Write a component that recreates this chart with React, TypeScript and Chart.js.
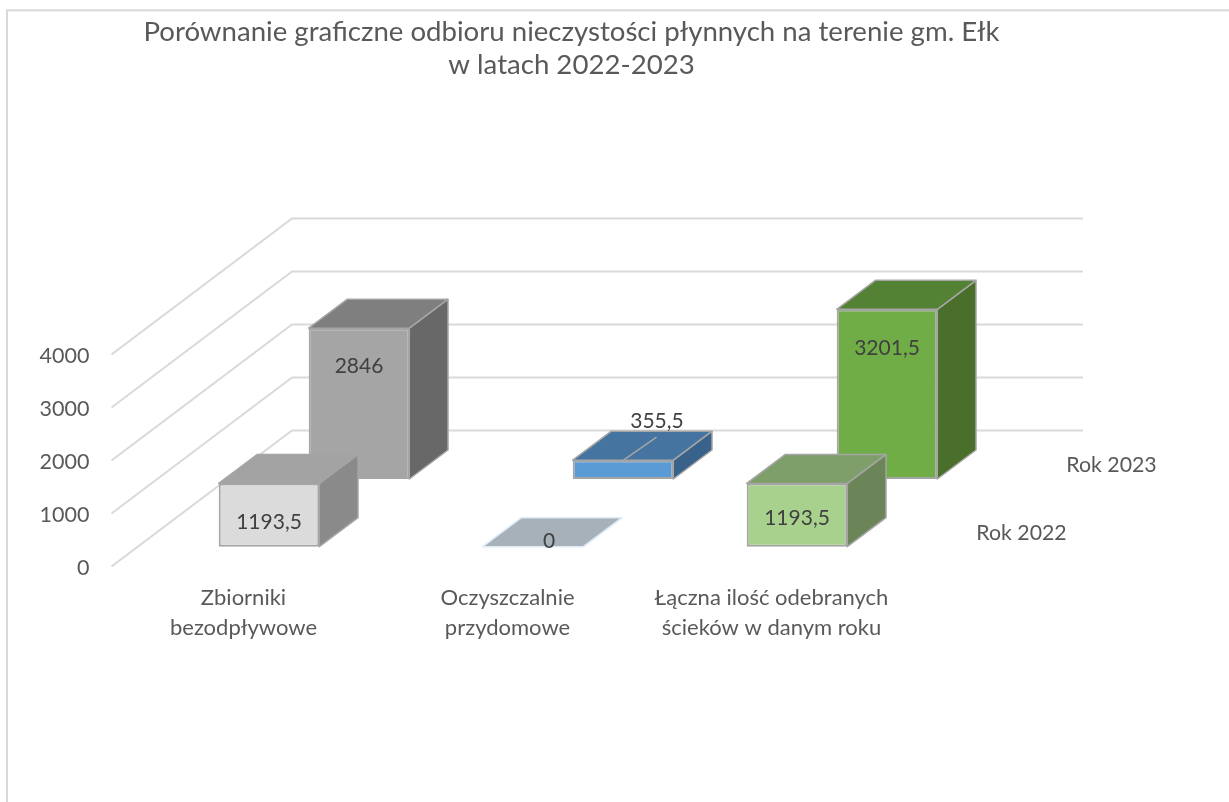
import React, { useEffect, useRef } from "react";
import { Chart, registerables } from "chart.js";

Chart.register(...registerables);

const categories = [["Zbiorniki", "bezodpływowe"], ["Oczyszczalnie", "przydomowe"], ["Łączna ilość odebranych", "ścieków w danym roku"]];
const seriesNames = ["Rok 2022", "Rok 2023"];
const rok2022 = [1193.5, 0, 1193.5];
const rok2023 = [2846, 355.5, 3201.5];
const yTicks = { min: 0, max: 4000, step: 1000 };
const titleLines = ["Porównanie graficzne odbioru nieczystości płynnych na terenie gm. Ełk", "w latach 2022-2023"];

const FONT = "Lato, Carlito, Calibri, sans-serif";
const frontFace = [
  ["#dbdbdb", "#a6b1ba", "#a9d18e"],
  ["#a5a5a5", "#5b9bd5", "#70ad47"],
];
const topFace = [
  ["#a3a3a3", "#a6b1ba", "#7f9f6a"],
  ["#7f7f7f", "#44749f", "#548235"],
];
const sideFace = [
  ["#8a8a8a", "#a6b1ba", "#6b8559"],
  ["#686868", "#38628a", "#4a6f2b"],
];
const edge = ["#a5a5a5", "#a5a5a5"];
const plateEdge = "#deebf7";

// depth of the whole floor, of each series row, and of one bar
const FLOOR = { dx: 180.5, dy: -136 };
const ROW = [{ dx: 25.5, dy: -19.8 }, { dx: 115.5, dy: -87.5 }];
const BAR = { dx: 38.7, dy: -29 };
const LABEL_SHIFT = [
  [[0, 39], [16, -5], [0, 35]],
  [[0, 38], [34, -39], [0, 39]],
];

const poly = (ctx: CanvasRenderingContext2D, pts: number[][], fill: string, stroke: string, lw: number) => {
  ctx.beginPath();
  pts.forEach((p, i) => (i ? ctx.lineTo(p[0], p[1]) : ctx.moveTo(p[0], p[1])));
  ctx.closePath();
  ctx.fillStyle = fill;
  ctx.fill();
  ctx.lineWidth = lw;
  ctx.strokeStyle = stroke;
  ctx.lineJoin = "round";
  ctx.stroke();
};

const depth3d = {
  id: "depth3d",
  afterLayout(chart: any) {
    const tb = chart.titleBlock;
    if (tb) {
      tb.left = 0;
      tb.right = 1143;
    }
  },
  beforeDraw(chart: any) {
    const { ctx } = chart;
    ctx.save();
    ctx.strokeStyle = "#d9d9d9";
    ctx.lineWidth = 2;
    ctx.strokeRect(7, 10.3, 1400, 1000);
    ctx.restore();
  },
  beforeDatasetsDraw(chart: any) {
    const { ctx, chartArea } = chart;
    const y = chart.scales.y;
    ctx.save();
    ctx.strokeStyle = "#d9d9d9";
    ctx.lineWidth = 2;
    y.ticks.forEach((t: any) => {
      const py = y.getPixelForValue(t.value);
      ctx.beginPath();
      ctx.moveTo(chartArea.left, py);
      ctx.lineTo(chartArea.left + FLOOR.dx, py + FLOOR.dy);
      ctx.lineTo(chartArea.right + FLOOR.dx - 1, py + FLOOR.dy);
      ctx.stroke();
    });
    ctx.restore();
  },
  beforeDatasetDraw(chart: any, args: any) {
    const { ctx } = chart;
    const di = args.index;
    const r = ROW[di];
    ctx.save();
    ctx.translate(r.dx, r.dy);
    args.meta.data.forEach((el: any, i: number) => {
      const left = el.x - el.width / 2;
      const right = el.x + el.width / 2;
      const isZero = Math.abs(el.base - el.y) < 0.5;
      const stroke = isZero ? plateEdge : edge[di];
      poly(ctx, [[right, el.y], [right + BAR.dx, el.y + BAR.dy], [right + BAR.dx, el.base + BAR.dy], [right, el.base]], sideFace[di][i], stroke, 1.5);
      poly(ctx, [[left, el.y], [left + BAR.dx, el.y + BAR.dy], [right + BAR.dx, el.y + BAR.dy], [right, el.y]], topFace[di][i], stroke, 1.5);
      if (di === 1 && i === 1) {
        ctx.beginPath();
        ctx.moveTo(el.x + 0.5, el.y);
        ctx.lineTo(el.x + 33.5, el.y - 23);
        ctx.strokeStyle = edge[di];
        ctx.lineWidth = 1.5;
        ctx.stroke();
      }
    });
  },
  afterDatasetDraw(chart: any) {
    chart.ctx.restore();
  },
  afterDatasetsDraw(chart: any) {
    const { ctx, chartArea } = chart;
    ctx.save();
    ctx.textAlign = "center";
    ctx.textBaseline = "middle";
    chart.data.datasets.forEach((ds: any, di: number) => {
      const meta = chart.getDatasetMeta(di);
      const r = ROW[di];
      ctx.font = `21px ${FONT}`;
      meta.data.forEach((el: any, i: number) => {
        const s = LABEL_SHIFT[di][i];
        ctx.fillStyle = "#404040";
        ctx.fillText(String(ds.data[i]).replace(".", ","), el.x + r.dx + s[0], el.y + r.dy + s[1]);
      });
      const base = chart.scales.y.getPixelForValue(0);
      ctx.font = `21.3px ${FONT}`;
      ctx.fillStyle = "#595959";
      ctx.fillText(ds.label, chartArea.right + r.dx + 92.5, base + r.dy - 13.5);
    });
    ctx.restore();
  },
};

export default function App() {
  const ref = useRef<HTMLCanvasElement>(null);
  useEffect(() => {
    const chart = new Chart(ref.current as HTMLCanvasElement, {
      type: "bar",
      data: {
        labels: categories as any,
        datasets: [
          { label: seriesNames[0], data: rok2022, backgroundColor: frontFace[0], borderColor: edge[0], borderWidth: 2, borderSkipped: false, clip: false } as any,
          { label: seriesNames[1], data: rok2023, backgroundColor: frontFace[1], borderColor: edge[1], borderWidth: 2, borderSkipped: false, clip: false } as any,
        ],
      },
      options: {
        responsive: false,
        animation: false,
        events: [],
        layout: { padding: { left: 0, right: 325.5, top: 0, bottom: 0 } },
        datasets: { bar: { grouped: false, barPercentage: 0.381, categoryPercentage: 1 } },
        plugins: {
          legend: { display: false },
          tooltip: { enabled: false },
          title: {
            display: true,
            text: titleLines,
            color: "#595959",
            font: { family: FONT, size: 27.6, weight: "normal", lineHeight: 1.196 },
            padding: { top: 16, bottom: 272.5 },
          },
        },
        scales: {
          x: {
            grid: { display: false, drawTicks: false },
            border: { display: false },
            ticks: { color: "#595959", font: { family: FONT, size: 22, lineHeight: 1.364 }, padding: 16, maxRotation: 0, autoSkip: false },
            afterFit: (s: any) => { s.height = 235.5; },
          },
          y: {
            min: yTicks.min,
            max: yTicks.max,
            grid: { display: false, drawTicks: false },
            border: { display: false },
            ticks: { stepSize: yTicks.step, color: "#595959", font: { family: FONT, size: 21.5 }, padding: 22, labelOffset: 1.5, callback: (v: any) => String(v) },
            afterFit: (s: any) => { s.width = 111.5; },
          },
        },
      },
      plugins: [depth3d],
    } as any);
    return () => chart.destroy();
  }, []);
  return (
    <div style={{ position: "absolute", left: 0, top: 0, width: 1229, height: 802, background: "#fff" }}>
      <canvas ref={ref} width={1229} height={802} style={{ display: "block" }} />
    </div>
  );
}
